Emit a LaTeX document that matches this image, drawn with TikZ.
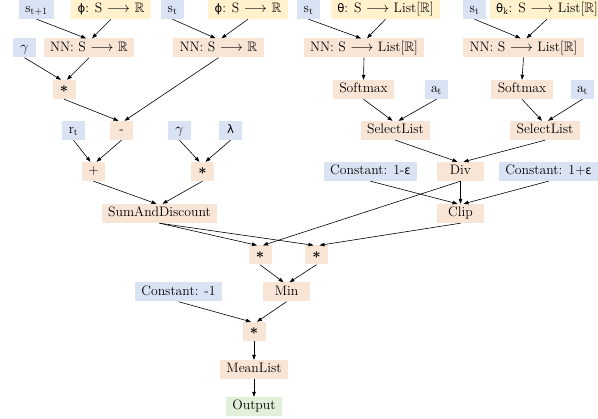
\documentclass[tikz,border=0pt]{standalone}
\usepackage{amssymb}
\usepackage{fontspec}
\newfontfamily\dv[Scale=0.85]{DejaVu Sans}
\usetikzlibrary{arrows.meta}
\definecolor{cblue}{HTML}{DAE3F3}
\definecolor{corange}{HTML}{F8E5D6}
\definecolor{cyellow}{HTML}{FFF2CC}
\definecolor{cgreen}{HTML}{E2F0D9}
\newcommand{\gk}[1]{{\dv #1}}
\newcommand{\astk}{{\boldmath$\ast$}}
\tikzset{
  box/.style={inner xsep=6.5pt, inner ysep=0pt, minimum height=19pt, minimum width=23pt,
    text height=9.5pt, text depth=3pt, font=\fontsize{13.7}{16}\selectfont},
  inbox/.style={box, fill=cblue},
  opbox/.style={box, fill=corange},
  fnbox/.style={box, fill=cyellow},
  outbox/.style={box, fill=cgreen},
  edge/.style={draw=black, line width=0.6pt, -{Triangle[length=5pt,width=3.6pt]}},
}
\begin{document}
\begin{tikzpicture}[x=1pt,y=-1pt]
\useasboundingbox (0,0) rectangle (598,419);
% row 1
\node[inbox] (st1) at (36.5,9.5) {$\mathrm{s_{t+1}}$};
\node[fnbox] (phi1) at (111,9.5) {\gk{ϕ}: S $\longrightarrow$ $\mathbb{R}$};
\node[inbox] (st2) at (172.5,9.5) {$\mathrm{s_t}$};
\node[fnbox] (phi2) at (248,9.5) {\gk{ϕ}: S $\longrightarrow$ $\mathbb{R}$};
\node[inbox] (st3) at (308.5,9.5) {$\mathrm{s_t}$};
\node[fnbox] (theta) at (385.5,9.5) {\gk{θ}: S $\longrightarrow$ List[$\mathbb{R}$]};
\node[inbox] (st4) at (474.5,9.5) {$\mathrm{s_t}$};
\node[fnbox] (thetak) at (547,9.5) {\gk{θ}$_{\mathrm{k}}$: S $\longrightarrow$ List[$\mathbb{R}$]};
% row 2
\node[inbox] (g1) at (24.5,48) {$\gamma$};
\node[opbox] (nn1) at (89,48) {NN: S $\longrightarrow$ $\mathbb{R}$};
\node[opbox] (nn2) at (218.5,48) {NN: S $\longrightarrow$ $\mathbb{R}$};
\node[opbox] (nn3) at (364,48) {NN: S $\longrightarrow$ List[$\mathbb{R}$]};
\node[opbox] (nn4) at (523.5,48) {NN: S $\longrightarrow$ List[$\mathbb{R}$]};
% row 3
\node[opbox] (m1) at (64,89.5) {\astk};
\node[opbox] (sm1) at (363.5,89.5) {Softmax};
\node[inbox] (at1) at (436.5,89.5) {$\mathrm{a_t}$};
\node[opbox] (sm2) at (522,89.5) {Softmax};
\node[inbox] (at2) at (582.5,89.5) {$\mathrm{a_t}$};
% row 4
\node[inbox] (rt) at (73.5,130.5) {$\mathrm{r_t}$};
\node[opbox] (minus) at (121.5,130.5) {-};
\node[inbox] (g2) at (179.5,130.5) {$\gamma$};
\node[inbox] (lam) at (230.5,130.5) {\gk{λ}};
\node[opbox] (sl1) at (395.5,130.5) {SelectList};
\node[opbox] (sl2) at (545,130.5) {SelectList};
% row 5
\node[opbox] (plus) at (93.5,171.5) {+};
\node[opbox] (m2) at (202.5,171.5) {\astk};
\node[inbox] (c1) at (370.5,171.5) {Constant: 1-\gk{ε}};
\node[opbox, minimum width=47pt] (div) at (460.5,171.5) {Div};
\node[inbox] (c2) at (548.5,171.5) {Constant: 1+\gk{ε}};
% row 6
\node[opbox] (sad) at (159.5,213.5) {SumAndDiscount};
\node[opbox, minimum width=47pt] (clip) at (460.5,213.5) {Clip};
% row 7
\node[opbox] (m3) at (260,255) {\astk};
\node[opbox] (m4) at (316.5,255) {\astk};
% row 8
\node[inbox] (cm1) at (178.5,292) {Constant: -1};
\node[opbox, minimum width=47pt] (min) at (286.5,292) {Min};
% rows 9-11
\node[opbox] (m5) at (254,331.5) {\astk};
\node[opbox] (mean) at (254,369.5) {MeanList};
\node[outbox] (out) at (254,406.5) {Output};
% edges
\draw[edge] (st1.south) -- ([xshift=-3pt]nn1.north);
\draw[edge] (phi1.south) -- ([xshift=3pt]nn1.north);
\draw[edge] (st2.south) -- ([xshift=-3pt]nn2.north);
\draw[edge] (phi2.south) -- ([xshift=3pt]nn2.north);
\draw[edge] (st3.south) -- ([xshift=-3pt]nn3.north);
\draw[edge] (theta.south) -- ([xshift=3pt]nn3.north);
\draw[edge] (st4.south) -- ([xshift=-3pt]nn4.north);
\draw[edge] (thetak.south) -- ([xshift=3pt]nn4.north);
\draw[edge] (g1.south) -- ([xshift=-3pt]m1.north);
\draw[edge] (nn1.south) -- ([xshift=3pt]m1.north);
\draw[edge] (m1.south) -- ([xshift=-3pt]minus.north);
\draw[edge] (nn2.south) -- ([xshift=3pt]minus.north);
\draw[edge] (nn3.south) -- (sm1.north);
\draw[edge] (nn4.south) -- (sm2.north);
\draw[edge] (sm1.south) -- ([xshift=-3pt]sl1.north);
\draw[edge] (at1.south) -- ([xshift=3pt]sl1.north);
\draw[edge] (sm2.south) -- ([xshift=-3pt]sl2.north);
\draw[edge] (at2.south) -- ([xshift=3pt]sl2.north);
\draw[edge] (rt.south) -- ([xshift=-3pt]plus.north);
\draw[edge] (minus.south) -- ([xshift=3pt]plus.north);
\draw[edge] (g2.south) -- ([xshift=-3pt]m2.north);
\draw[edge] (lam.south) -- ([xshift=3pt]m2.north);
\draw[edge] (plus.south) -- ([xshift=-3pt]sad.north);
\draw[edge] (m2.south) -- ([xshift=3pt]sad.north);
\draw[edge] (sl1.south) -- ([xshift=-3pt]div.north);
\draw[edge] (sl2.south) -- ([xshift=3pt]div.north);
\draw[edge] (c1.south) -- ([xshift=-3pt]clip.north);
\draw[edge] (div.south) -- (clip.north);
\draw[edge] (c2.south) -- ([xshift=3pt]clip.north);
\draw[edge] (sad.south) -- ([xshift=-3pt]m3.north);
\draw[edge] (div.south) -- ([xshift=3pt]m3.north);
\draw[edge] (sad.south) -- ([xshift=-3pt]m4.north);
\draw[edge] (clip.south) -- ([xshift=3pt]m4.north);
\draw[edge] (m3.south) -- ([xshift=-3pt]min.north);
\draw[edge] (m4.south) -- ([xshift=3pt]min.north);
\draw[edge] (cm1.south) -- ([xshift=-3pt]m5.north);
\draw[edge] (min.south) -- ([xshift=3pt]m5.north);
\draw[edge] (m5.south) -- (mean.north);
\draw[edge] (mean.south) -- (out.north);
\end{tikzpicture}
\end{document}
